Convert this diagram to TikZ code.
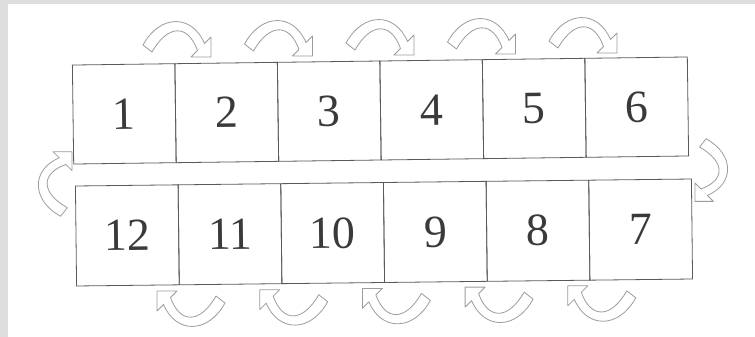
\documentclass[tikz,border=0pt]{standalone}
\usepackage{fontspec}
\setmainfont{Liberation Serif}
\definecolor{boxc}{HTML}{5A5A5A}
\definecolor{arrowc}{HTML}{9C9C9C}
\definecolor{digitc}{HTML}{3A3A3A}
\definecolor{stripc}{HTML}{DEDEDE}
\begin{document}
\begin{tikzpicture}[x=1pt,y=-1pt,
  cell/.style={draw=boxc, line width=0.8pt, minimum width=102.5pt, minimum height=99pt,
    inner sep=0pt, outer sep=0pt, text=digitc, font=\fontsize{46}{46}\selectfont},
  cellb/.style={cell, minimum width=102.7pt, minimum height=100pt},
  arrowline/.style={draw=arrowc, line width=0.8pt, fill=white, line join=round},
  harrow/.pic={\path[arrowline] (-35,-12) .. controls (-18,-43) and (14,-43) .. (26.5,-13.5)
     -- (33,-20) -- (33,0) -- (13,0) -- (19.5,-6.5)
     .. controls (10,-33) and (-10,-33) .. (-26,-5) -- cycle;}]
\useasboundingbox (0,0) rectangle (755,337);
\fill[white] (0,0) rectangle (755,337);
\fill[stripc] (0,0) rectangle (8,337);
\fill[stripc] (0,0) rectangle (755,4);
% top row
\begin{scope}[rotate around={0.75:(380.5,110.5)}, transform shape]
  \node[cell] (c1) at (124.25,110.5) {1};
  \node[cell] (c2) at (226.75,110.5) {2};
  \node[cell] (c3) at (329.25,110.5) {3};
  \node[cell] (c4) at (431.75,110.5) {4};
  \node[cell] (c5) at (534.25,110.5) {5};
  \node[cell] (c6) at (636.75,110.5) {6};
\end{scope}
% bottom row
\begin{scope}[rotate around={0.65:(384,232.5)}, transform shape]
  \node[cellb] (c12) at (127.33,232.5) {12};
  \node[cellb] (c11) at (230.0,232.5) {11};
  \node[cellb] (c10) at (332.67,232.5) {10};
  \node[cellb] (c9) at (435.33,232.5) {9};
  \node[cellb] (c8) at (538.0,232.5) {8};
  \node[cellb] (c7) at (640.67,232.5) {7};
\end{scope}
% arrows
\foreach \i in {0,...,4} \pic at ({178+101.5*\i},{57-\i}) {harrow};
\foreach \i in {0,...,4} \pic[rotate=180] at ({190+102.7*\i},{291-1.3*\i}) {harrow};
\pic[rotate=90, scale=0.95] at (72,183) {harrow};
\pic[rotate=-90, scale=0.92] at (695,171) {harrow};
\end{tikzpicture}
\end{document}
